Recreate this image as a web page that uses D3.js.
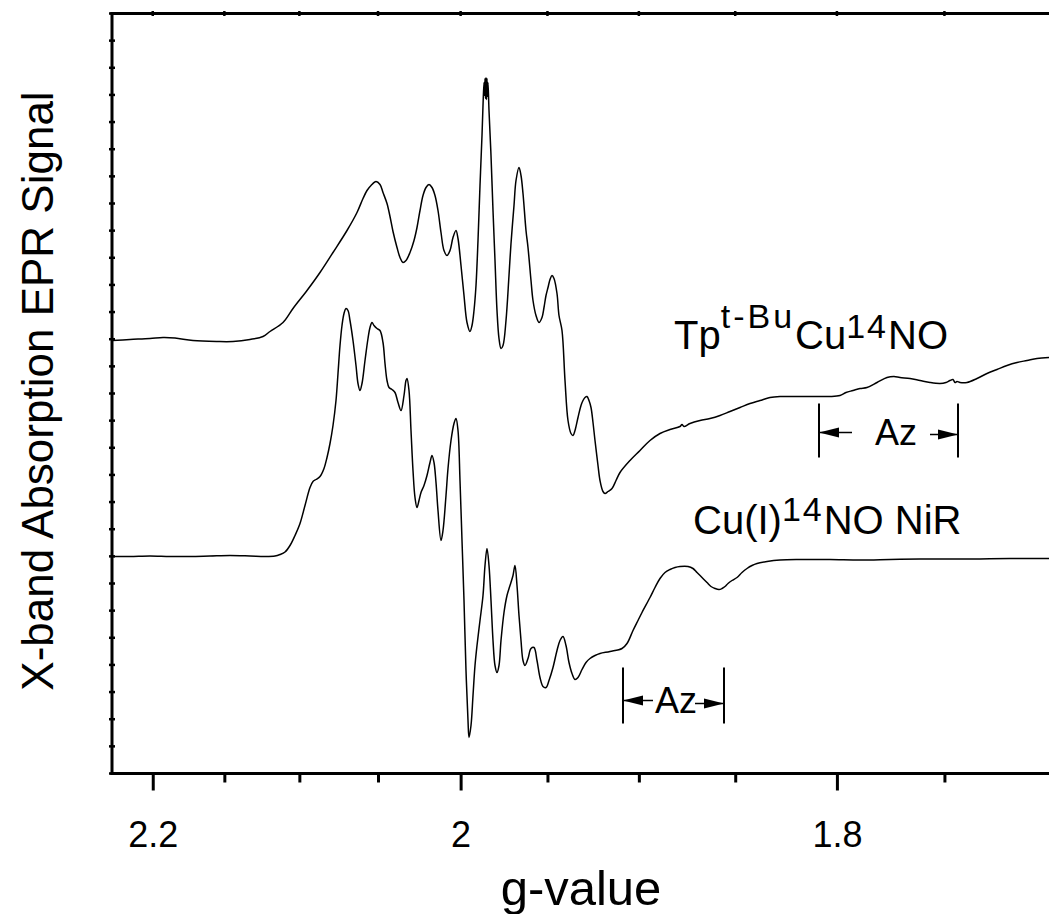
<!DOCTYPE html>
<html>
<head>
<meta charset="utf-8">
<script src="https://cdn.jsdelivr.net/npm/d3@7"></script>
<style>
  body { margin: 0; background: #fff; }
  svg { display: block; font-family: "Liberation Sans", Arial, Helvetica, sans-serif; }
</style>
</head>
<body>
<svg id="chart" width="1049" height="914"></svg>
<script>
// X-band spectrometer frequency; the field axis is labelled in g-values
const MW_FREQ_GHZ = 9.48;
const fieldOfG = g => 714.477 * MW_FREQ_GHZ / g;   // resonance field in gauss

const fieldDomain = [3038, 3975];      // G
const signalDomain = [0, 7.6];         // a.u.
const gMajorTicks = [2.2, 2.0, 1.8];
const gMajorLabels = ["2.2", "2", "1.8"];
const gMinorTicks = [2.15, 2.1, 2.05, 1.95, 1.9, 1.85, 1.75];
const signalTickCount = 28;

// Tp(t-Bu)Cu(14NO) absorption trace
const offsetTpCu = 4.33;
const fieldTpCu = [3038,3056,3076,3089,3101,3119,3143,3159,3176,3189,3196,3209,3219,3233,3246,3259,3273,3283,3289,3293,3297,3302,3306,3309,3313,3316,3319,3323,3326,3329,3332,3336,3340,3343,3346,3349,3352,3355,3358,3361,3364,3367,3370,3373,3376,3379,3382,3384,3387,3390,3393,3396,3398,3400,3402,3404,3406,3408,3409,3410,3410.5,3411,3411.5,3412,3412.5,3413,3413.5,3414,3415,3417,3419,3421,3423,3425,3427,3429,3432,3435,3437,3440,3442,3445,3447,3449,3452,3454,3457,3459,3462,3465,3468,3470,3472,3474,3476,3478,3480,3483,3485,3488,3491,3494,3497,3499,3501,3504,3507,3509,3511,3513,3515,3517,3519,3521,3524,3526,3529,3531,3534,3538,3542,3546,3556,3566,3576,3586,3596,3606,3608,3610,3616,3626,3636,3646,3656,3666,3676,3686,3696,3706,3716,3726,3736,3746,3756,3766,3772,3779,3786,3793,3803,3813,3820,3826,3836,3846,3856,3866,3872,3876,3879,3881,3883,3886,3893,3903,3913,3923,3933,3943,3953,3963,3975];
const signalTpCu = [0.00,0.01,0.02,0.03,0.025,0.00,-0.01,-0.01,0.01,0.04,0.09,0.18,0.32,0.50,0.68,0.88,1.10,1.28,1.42,1.50,1.55,1.59,1.56,1.48,1.37,1.24,1.09,0.93,0.83,0.78,0.80,0.88,1.00,1.13,1.30,1.45,1.53,1.56,1.53,1.45,1.30,1.08,0.90,0.85,0.90,1.03,1.10,1.02,0.75,0.45,0.18,0.09,0.15,0.30,0.55,1.00,1.55,2.05,2.35,2.58,2.45,2.62,2.42,2.63,2.41,2.62,2.44,2.58,2.30,1.85,1.30,0.80,0.30,0.02,-0.08,-0.05,0.20,0.65,0.97,1.35,1.60,1.73,1.65,1.47,1.10,0.93,0.60,0.40,0.25,0.18,0.23,0.33,0.45,0.53,0.61,0.65,0.62,0.47,0.25,0.10,-0.40,-0.80,-0.93,-0.95,-0.90,-0.77,-0.65,-0.60,-0.57,-0.56,-0.60,-0.67,-0.82,-1.00,-1.25,-1.40,-1.51,-1.53,-1.51,-1.48,-1.40,-1.32,-1.20,-1.10,-1.00,-0.93,-0.89,-0.86,-0.84,-0.86,-0.83,-0.80,-0.78,-0.75,-0.71,-0.67,-0.63,-0.60,-0.57,-0.56,-0.56,-0.56,-0.56,-0.56,-0.56,-0.55,-0.52,-0.50,-0.48,-0.47,-0.42,-0.37,-0.36,-0.37,-0.38,-0.40,-0.42,-0.43,-0.42,-0.40,-0.39,-0.42,-0.41,-0.42,-0.42,-0.38,-0.33,-0.29,-0.25,-0.22,-0.20,-0.18,-0.17];

// Cu(I)(14NO) nitrite reductase absorption trace
const offsetNiR = 2.17;
const fieldNiR = [3038,3056,3076,3096,3116,3136,3156,3176,3191,3201,3206,3211,3216,3221,3226,3231,3236,3239,3242,3246,3250,3253,3256,3259,3262,3264,3266,3268,3270,3272,3274,3276,3279,3282,3284,3286,3288,3291,3294,3296,3298,3300,3303,3306,3309,3311,3313,3315,3318,3321,3324,3327,3330,3332,3333,3335,3337,3339,3341,3343,3345,3347,3350,3353,3356,3358,3360,3362,3364,3367,3369,3372,3374,3377,3380,3382,3384,3386,3388,3390,3392,3394,3395,3397,3399,3401,3403,3406,3409,3411,3413,3415,3417,3419,3421,3423,3425,3427,3430,3433,3436,3439,3441,3443,3445,3447,3449,3451,3454,3457,3460,3463,3466,3469,3472,3475,3479,3483,3486,3489,3492,3495,3498,3501,3504,3508,3512,3516,3521,3526,3536,3548,3553,3559,3564,3568,3576,3581,3586,3591,3596,3601,3606,3614,3619,3623,3628,3633,3637,3641,3645,3648,3651,3654,3658,3663,3668,3673,3678,3683,3693,3706,3726,3756,3786,3816,3846,3876,3906,3936,3975];
const signalNiR = [0.00,0.00,0.005,0.00,0.00,0.005,0.01,0.005,0.00,0.005,0.02,0.045,0.11,0.21,0.33,0.51,0.69,0.75,0.77,0.80,0.88,0.99,1.13,1.31,1.56,1.83,2.11,2.31,2.43,2.48,2.46,2.36,2.16,1.91,1.73,1.66,1.73,1.96,2.18,2.29,2.34,2.31,2.28,2.26,2.14,1.93,1.76,1.69,1.67,1.64,1.54,1.46,1.61,1.76,1.78,1.66,1.26,0.86,0.59,0.49,0.56,0.64,0.71,0.81,0.94,1.01,0.94,0.74,0.46,0.16,0.26,0.61,0.88,1.16,1.33,1.38,1.26,0.76,0.16,-0.44,-1.14,-1.64,-1.81,-1.69,-1.39,-1.09,-0.89,-0.64,-0.39,-0.09,0.08,-0.09,-0.44,-0.84,-1.09,-1.16,-1.09,-0.84,-0.56,-0.39,-0.29,-0.19,-0.09,-0.29,-0.59,-0.84,-1.04,-1.09,-1.02,-0.92,-0.91,-1.04,-1.21,-1.30,-1.31,-1.24,-1.11,-0.94,-0.84,-0.80,-0.89,-1.06,-1.17,-1.23,-1.21,-1.13,-1.06,-1.02,-0.99,-0.97,-0.95,-0.92,-0.87,-0.74,-0.64,-0.56,-0.41,-0.31,-0.22,-0.16,-0.13,-0.11,-0.10,-0.10,-0.12,-0.16,-0.21,-0.26,-0.30,-0.32,-0.33,-0.32,-0.30,-0.27,-0.24,-0.21,-0.16,-0.12,-0.09,-0.07,-0.05,-0.035,-0.03,-0.03,-0.035,-0.03,-0.025,-0.025,-0.025,-0.02,-0.02];

// 14N hyperfine splitting markers (fields in G, heights in signal units)
const azTpCu = { from: 3745, to: 3884, top: 3.70, bottom: 3.16, yLeft: 3.41, yRight: 3.39, shaftLeft: 3778, shaftRight: 3856, textAt: 3822, textY: 3.29 };
const azNiR  = { from: 3549, to: 3650, top: 1.06, bottom: 0.50, yLeft: 0.73, yRight: 0.70, shaftLeft: 3579, shaftRight: 3621, textAt: 3602, textY: 0.61 };

// Trace labels
const labelTpCu = { field: 3600, y: 4.25 };
const labelNiR = { field: 3619, y: 2.40 };

const svg = d3.select("#chart");
const W = +svg.attr("width"), H = +svg.attr("height");
const plot = { left: 112, right: 1049, top: 13.5, bottom: 773.5 };

const x = d3.scaleLinear().domain(fieldDomain).range([plot.left, plot.right]);
const y = d3.scaleLinear().domain(signalDomain).range([plot.bottom, plot.top]);

svg.append("rect").attr("width", W).attr("height", H).attr("fill", "#fff");

const line = d3.line()
  .x(d => x(d[0]))
  .y(d => y(d[1]))
  .curve(d3.curveCatmullRom.alpha(0.5));

const traces = [
  { f: fieldTpCu, s: signalTpCu, off: offsetTpCu },
  { f: fieldNiR, s: signalNiR, off: offsetNiR }
];
svg.append("g").selectAll("path")
  .data(traces)
  .join("path")
  .attr("d", t => line(t.f.map((f, i) => [f, t.s[i] + t.off])))
  .attr("fill", "none")
  .attr("stroke", "#000")
  .attr("stroke-width", 1.5)
  .attr("stroke-linejoin", "round");

// Bottom axis: major ticks with labels, then minor ticks
const axisMajor = d3.axisBottom(x)
  .tickValues(gMajorTicks.map(fieldOfG))
  .tickFormat((d, i) => gMajorLabels[i])
  .tickSize(17).tickSizeOuter(0).tickPadding(31);
const axisMinor = d3.axisBottom(x)
  .tickValues(gMinorTicks.map(fieldOfG))
  .tickFormat("")
  .tickSize(9).tickSizeOuter(0);

const gMinor = svg.append("g").attr("transform", `translate(0,${plot.bottom})`).call(axisMinor);
const gMajor = svg.append("g").attr("transform", `translate(0,${plot.bottom})`).call(axisMajor);
[gMinor, gMajor].forEach(g => {
  g.select(".domain").remove();
  g.selectAll(".tick line").attr("stroke", "#000").attr("stroke-width", 3);
});
gMajor.selectAll(".tick text")
  .attr("fill", "#000")
  .attr("font-size", 36)
  .attr("font-family", "Liberation Sans, Arial, sans-serif");

// Top axis: small ticks at the same g positions
const allG = gMajorTicks.concat(gMinorTicks);
svg.append("g").selectAll("line")
  .data(allG)
  .join("line")
  .attr("x1", d => x(fieldOfG(d))).attr("x2", d => x(fieldOfG(d)))
  .attr("y1", plot.top - 2.5).attr("y2", plot.top + 2.5)
  .attr("stroke", "#000").attr("stroke-width", 2.5);

// Left axis: unlabelled small ticks
const yTicks = d3.range(signalTickCount + 1).map(i => signalDomain[0] + i * (signalDomain[1] - signalDomain[0]) / signalTickCount);
svg.append("g").selectAll("line")
  .data(yTicks)
  .join("line")
  .attr("x1", plot.left - 3).attr("x2", plot.left + 3)
  .attr("y1", d => y(d)).attr("y2", d => y(d))
  .attr("stroke", "#000").attr("stroke-width", 2.5);

// Frame (left, top, bottom)
const frame = svg.append("g").attr("stroke", "#000").attr("stroke-width", 3).attr("fill", "none");
frame.append("line").attr("x1", plot.left).attr("x2", plot.left).attr("y1", plot.top - 1.5).attr("y2", plot.bottom + 1.5);
frame.append("line").attr("x1", plot.left - 1.5).attr("x2", W).attr("y1", plot.top).attr("y2", plot.top);
frame.append("line").attr("x1", plot.left - 1.5).attr("x2", W).attr("y1", plot.bottom).attr("y2", plot.bottom);

// Axis titles
svg.append("text")
  .attr("x", 581).attr("y", 905)
  .attr("text-anchor", "middle")
  .attr("font-size", 49)
  .text("g-value");
svg.append("text")
  .attr("transform", "translate(53,391) rotate(-90)")
  .attr("text-anchor", "middle")
  .attr("font-size", 44)
  .text("X-band Absorption EPR Signal");

// Trace labels with superscripts
function richLabel(pos, parts) {
  const t = svg.append("text")
    .attr("x", x(pos.field)).attr("y", y(pos.y))
    .attr("font-size", 40);
  let base = 0;
  parts.forEach(p => {
    const shift = p.sup ? -p.sup : 0;
    const ts = t.append("tspan").text(p.t);
    ts.attr("dy", shift - base);
    base = shift;
    if (p.sup) ts.attr("font-size", 34).attr("letter-spacing", p.ls || 0);
  });
}
richLabel(labelTpCu, [
  { t: "Tp" }, { t: "t-Bu", sup: 21, ls: 3 }, { t: "Cu" }, { t: "14", sup: 11, ls: 2 }, { t: "NO" }
]);
richLabel(labelNiR, [
  { t: "Cu(I)" }, { t: "14", sup: 13, ls: 2 }, { t: "NO NiR" }
]);

// Hyperfine markers
function azMarker(a) {
  const g = svg.append("g");
  [a.from, a.to].forEach(f => {
    g.append("line")
      .attr("x1", x(f)).attr("x2", x(f))
      .attr("y1", y(a.top)).attr("y2", y(a.bottom))
      .attr("stroke", "#000").attr("stroke-width", 2);
  });
  const head = (tipX, tipY, dir) => {
    const L = 20, hw = 5;
    return `M${tipX},${tipY}L${tipX + dir * L},${tipY - hw}L${tipX + dir * L},${tipY + hw}Z`;
  };
  // left arrow points toward the low-field bar
  g.append("line").attr("x1", x(a.from)).attr("x2", x(a.shaftLeft))
    .attr("y1", y(a.yLeft)).attr("y2", y(a.yLeft)).attr("stroke", "#000").attr("stroke-width", 1.5);
  g.append("path").attr("d", head(x(a.from), y(a.yLeft), 1)).attr("fill", "#000");
  // right arrow points toward the high-field bar
  g.append("line").attr("x1", x(a.shaftRight)).attr("x2", x(a.to))
    .attr("y1", y(a.yRight)).attr("y2", y(a.yRight)).attr("stroke", "#000").attr("stroke-width", 1.5);
  g.append("path").attr("d", head(x(a.to), y(a.yRight), -1)).attr("fill", "#000");
  g.append("text")
    .attr("x", x(a.textAt)).attr("y", y(a.textY))
    .attr("text-anchor", "middle")
    .attr("font-size", 36)
    .text("Az");
}
azMarker(azTpCu);
azMarker(azNiR);
</script>
</body>
</html>
